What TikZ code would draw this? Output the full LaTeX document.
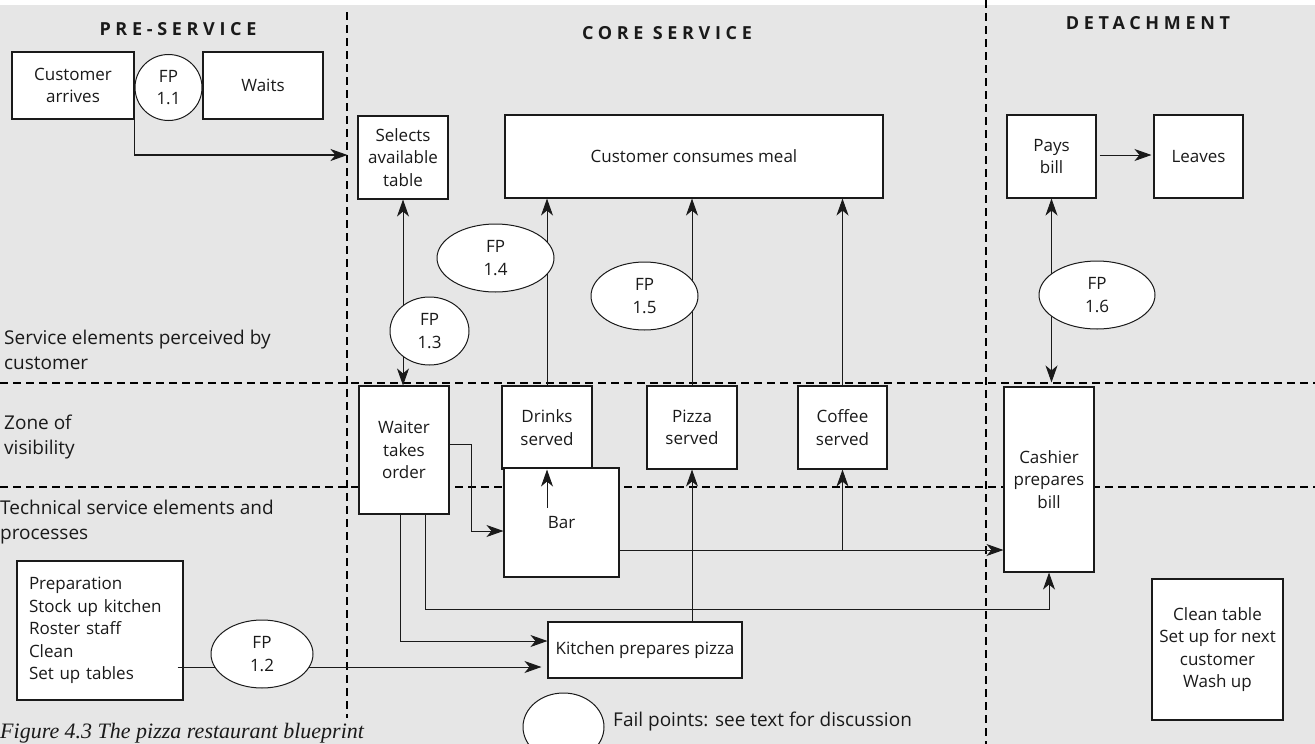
\documentclass[tikz,border=0pt]{standalone}
\usepackage{fontspec}
\setmainfont{Open Sans}
\newfontfamily\hdfont[LetterSpace=26]{Open Sans}
\newfontfamily\capfont{Liberation Serif}
\usetikzlibrary{arrows.meta,shapes.geometric,calc}
\definecolor{bgray}{HTML}{E6E6E6}
\definecolor{ink}{HTML}{1A1A1A}
\newcommand{\boxfont}{\fontsize{17}{22.5}\selectfont}
\newcommand{\lblfont}{\fontsize{19}{25}\selectfont}
\newcommand{\headfont}{\hdfont\bfseries\fontsize{18}{20}\selectfont}
\begin{document}
\begin{tikzpicture}[x=1pt,y=-1pt,
  box/.style={draw=ink, fill=white, line width=1.1pt, inner sep=0pt, align=center, font=\boxfont, text=ink},
  fp/.style={ellipse, draw=ink, fill=white, line width=1pt, inner sep=0pt, align=center, font=\boxfont, text=ink},
  zone/.style={black, line width=2.4pt, dash pattern=on 8pt off 5pt},
  conn/.style={draw=ink, line width=0.9pt, -{Stealth[length=17pt,width=12pt,inset=5pt]}},
  biconn/.style={draw=ink, line width=0.9pt, {Stealth[length=17pt,width=12pt,inset=5pt]}-{Stealth[length=17pt,width=12pt,inset=5pt]}},
  head/.style={font=\headfont, text=ink, inner sep=0pt},
  lbl/.style={font=\lblfont, text=ink, align=left, inner sep=0pt, anchor=west}
]
\useasboundingbox (0,0) rectangle (1315,744);
\fill[bgray] (0,5) rectangle (1315,744);

% zone lines
\draw[zone] (347,12) -- (347,718);
\draw[zone] (986,0) -- (986,744);
\draw[zone] (0,383) -- (1315,383);
\draw[zone] (0,487) -- (1315,487);

% headers
\node[head] (hpre) at (178,29) {PRE-SERVICE};
\node[head] (hcore) at (667,33) {CORE SERVICE};
\node[head] (hdet) at (1148,23) {DETACHMENT};

% side labels
\node[lbl] (lserv) at (4,350) {Service elements perceived by\\customer};
\node[lbl] (lzone) at (4,437) {Zone of\\visibility};
\node[lbl] (ltech) at (0,522) {Technical service elements and\\processes};

% boxes
\node[box, minimum width=122, minimum height=67] (arr) at (73,85.5) {Customer\\arrives};
\node[box, minimum width=120, minimum height=67] (waits) at (263,85.5) {Waits};
\node[box, minimum width=90, minimum height=83] (sel) at (403,157.5) {Selects\\available\\table};
\node[box, minimum width=378, minimum height=83] (meal) at (694,156.5) {Customer consumes meal};
\node[box, minimum width=89, minimum height=83] (pays) at (1051.5,156.5) {Pays\\bill};
\node[box, minimum width=89, minimum height=83] (leaves) at (1198.5,156.5) {Leaves};
\node[box, minimum width=90, minimum height=128] (waiter) at (404,450) {Waiter\\takes\\order};
\node[box, minimum width=90, minimum height=83] (drinks) at (547,427.5) {Drinks\\served};
\node[box, minimum width=115, minimum height=109] (bar) at (561.5,522.5) {Bar};
\node[box, minimum width=90, minimum height=83] (pizza) at (692,427.5) {Pizza\\served};
\node[box, minimum width=89, minimum height=83] (coffee) at (842.5,427.5) {Coffee\\served};
\node[box, minimum width=90, minimum height=185] (cash) at (1049,479.5) {Cashier\\prepares\\bill};
\node[box, minimum width=194, minimum height=56] (kitchen) at (645,650) {Kitchen prepares pizza};
\node[box, minimum height=139, text width=142pt, inner xsep=12pt, align=left] (prep) at (100,630.5) {Preparation\\Stock up kitchen\\Roster staff\\Clean\\Set up tables};
\node[box, minimum width=131, minimum height=141] (clean) at (1217.5,649.5) {Clean table\\Set up for next\\customer\\Wash up};

% connectors
\draw[conn, line width=1.8pt] (arr.south east) |- ([xshift=-10pt,yshift=2.5pt]sel.west);
\draw[biconn] (sel.south) -- (sel.south |- waiter.north);
\draw[conn] (drinks.north) -- (drinks.north |- meal.south);
\draw[conn] (pizza.north) -- (pizza.north |- meal.south);
\draw[conn] (coffee.north) -- (coffee.north |- meal.south);
\draw[biconn] (pays.south) -- ([yshift=4pt]pays.south |- cash.north);
\draw[conn] ([xshift=3pt,yshift=1.5pt]pays.east) -- ([xshift=-2pt,yshift=1.5pt]leaves.west);
\draw[conn] ([yshift=6pt]waiter.east) -- ++(22,0) |- ([yshift=-8.5pt]bar.west);
\draw[conn] ([yshift=-38pt]drinks.south) -- (drinks.south);
\draw[conn] ([yshift=-27.5pt]bar.east) -- ([yshift=-27.5pt]bar.east -| cash.west);
\draw[conn] ([yshift=-27.5pt]bar.east -| coffee.south) -- (coffee.south);
\draw[conn] (kitchen.north -| pizza.south) -- (pizza.south);
\draw[conn] ([xshift=-4pt]waiter.south) |- ([yshift=9pt]kitchen.west);
\draw[conn] ([xshift=21pt]waiter.south) -- ++(0,95) -| (cash.south);
\draw[conn] ([xshift=-6pt,yshift=-36.5pt]prep.east) -- ([xshift=-6pt,yshift=-17pt]kitchen.west);

% fail points
\node[fp, minimum width=67, minimum height=66] (fp11) at (168.5,87.5) {FP\\1.1};
\node[fp, minimum width=102, minimum height=68] (fp12) at (262,654) {FP\\1.2};
\node[fp, minimum width=79, minimum height=68] (fp13) at (429.5,331) {FP\\1.3};
\node[fp, minimum width=117, minimum height=68] (fp14) at (495.5,258) {FP\\1.4};
\node[fp, minimum width=107, minimum height=68] (fp15) at (644.5,296) {FP\\1.5};
\node[fp, minimum width=116, minimum height=68] (fp16) at (1097,295) {FP\\1.6};

% legend
\node[fp, minimum width=81, minimum height=68] (legfp) at (563.5,727) {};
\node[lbl] (legtxt) at (613,722) {Fail points: see text for discussion};

% caption
\node[anchor=base west, inner sep=0pt, font=\capfont\itshape\fontsize{22}{24}\selectfont, text=ink] (cap) at (0,738.5) {Figure 4.3 The pizza restaurant blueprint};
\end{tikzpicture}
\end{document}
